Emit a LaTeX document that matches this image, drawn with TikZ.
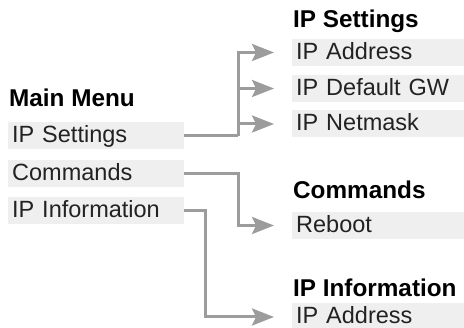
\documentclass[tikz,border=0pt]{standalone}
\usepackage{fontspec}
\setmainfont{Liberation Sans}
\usetikzlibrary{arrows.meta}
\definecolor{boxgray}{HTML}{EFEFEF}
\definecolor{linegray}{HTML}{9C9C9C}
\definecolor{textgray}{HTML}{222222}
\begin{document}
\begin{tikzpicture}[x=1pt, y=-1pt,
    title/.style={anchor=base west, inner sep=0pt, font=\fontsize{24.3}{27}\selectfont\bfseries},
    entry/.style={anchor=west, fill=boxgray, text=textgray, inner xsep=4pt, inner ysep=3.5pt,
        text height=17pt, text depth=3pt, align=left, font=\fontsize{23.5}{26}\selectfont},
    leftentry/.style={entry, text width=168pt},
    rightentry/.style={entry, text width=164pt},
    conn/.style={draw=linegray, line width=3pt, shorten >=18pt,
        -{Stealth[length=22pt, width=17pt, inset=4pt]}},
    link/.style={draw=linegray, line width=3pt}]
    \useasboundingbox (0,0) rectangle (464,328);
    % main menu
    \node[title] (maintitle) at (9,107) {Main Menu};
    \node[leftentry] (ms) at (8,136) {IP Settings};
    \node[leftentry] (mc) at (8,173.5) {Commands};
    \node[leftentry] (mi) at (8,211) {IP Information};
    % sub menus
    \node[title] (settitle) at (293,28) {IP Settings};
    \node[rightentry] (saddr) at (292,52.5) {IP Address};
    \node[rightentry] (sgw) at (292,88.5) {IP Default GW};
    \node[rightentry] (smask) at (292,124) {IP Netmask};
    \node[title] (cmdtitle) at (293,199) {Commands};
    \node[rightentry] (reboot) at (292,225.5) {Reboot};
    \node[title] (infotitle) at (293,297) {IP Information};
    \node[rightentry] (iaddr) at (292,317) {IP Address};
    % connectors
    \coordinate (jset) at (238,136);
    \coordinate (jcmd) at (238,173.5);
    \coordinate (jinfo) at (205,211);
    \draw[link] (ms.east) -- (jset);
    \draw[conn] (jset) |- (saddr.west);
    \draw[conn] (jset) |- (sgw.west);
    \draw[conn] (jset) |- (smask.west);
    \draw[conn] (mc.east) -- (jcmd) |- (reboot.west);
    \draw[conn] (mi.east) -- (jinfo) |- (iaddr.west);
\end{tikzpicture}
\end{document}
